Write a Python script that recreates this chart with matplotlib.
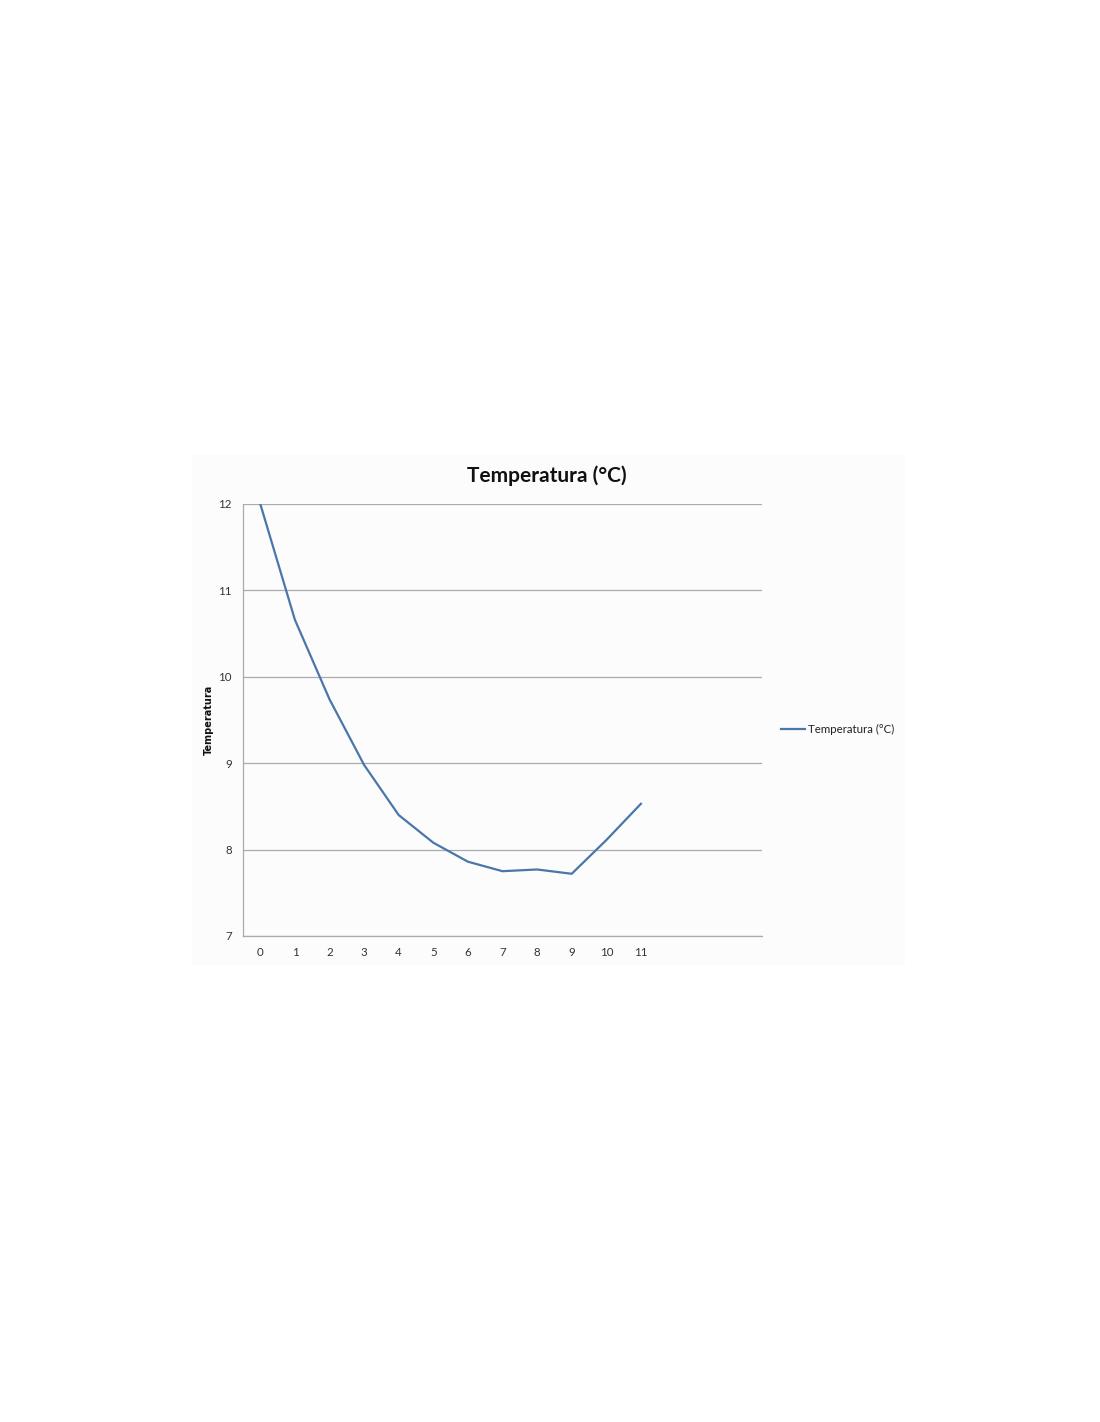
import matplotlib
matplotlib.use("Agg")
import matplotlib.pyplot as plt
from matplotlib.patches import Rectangle
from matplotlib.lines import Line2D

categories = list(range(12))
temperatura = [12.0, 10.66, 9.74, 8.98, 8.40, 8.08, 7.86, 7.75, 7.77, 7.72, 8.11, 8.53]
y_ticks = [7, 8, 9, 10, 11, 12]
x_tick_labels = [str(c) for c in categories]

plt.rcParams['font.family'] = ['Lato', 'DejaVu Sans']

W, H = 1100, 1422
fig = plt.figure(figsize=(W / 100, H / 100), dpi=100)
fig.patch.set_facecolor('white')

# chart area background
bg = Rectangle((192 / W, 1 - 965 / H), (905 - 192) / W, (965 - 455) / H,
               transform=fig.transFigure, facecolor='#fcfcfd',
               edgecolor='none', zorder=-10)
fig.patches.append(bg)

ax = fig.add_axes([243 / W, 1 - 936 / H, (762 - 243) / W, (936 - 504) / H])
ax.set_zorder(5)
ax.set_facecolor('#fcfcfd')

line_color = '#4a76aa'
ax.plot(categories, temperatura, color=line_color, linewidth=1.6, zorder=3,
        solid_joinstyle='round')

ax.set_xlim(-0.5, 14.5)
ax.set_ylim(7, 12)
ax.set_yticks(y_ticks)
ax.set_yticklabels([str(v) for v in y_ticks])
ax.set_xticks(categories)
ax.set_xticklabels(x_tick_labels)
ax.tick_params(axis='both', length=0, labelsize=8.3, colors='#333333')
ax.tick_params(axis='y', pad=8)
ax.tick_params(axis='x', pad=8)

ax.yaxis.grid(True, color='#a9abb0', linewidth=0.9)
ax.set_axisbelow(True)
for s in ['top', 'right']:
    ax.spines[s].set_visible(False)
for s in ['left', 'bottom']:
    ax.spines[s].set_color('#a9abb0')
    ax.spines[s].set_linewidth(0.9)

ax.set_ylabel('Temperatura', fontsize=7, fontweight='bold', color='#111111',
              family='DejaVu Sans')
ax.yaxis.set_label_coords((214 - 243) / (762 - 243), (936 - 720) / (936 - 504))

fig.text(547 / W, 1 - 476 / H, 'Temperatura (°C)', ha='center', va='center',
         fontsize=15, fontweight='bold', color='#111111', zorder=6)

# legend
fig.lines.append(Line2D([781 / W, 805 / W], [1 - 729 / H, 1 - 729 / H],
                        transform=fig.transFigure, color=line_color, linewidth=1.6,
                        zorder=6))
fig.text(808 / W, 1 - 729 / H, 'Temperatura (°C)', ha='left', va='center',
         fontsize=8.3, color='#222222', zorder=6)

fig.savefig('out.png', dpi=100, facecolor='white')
